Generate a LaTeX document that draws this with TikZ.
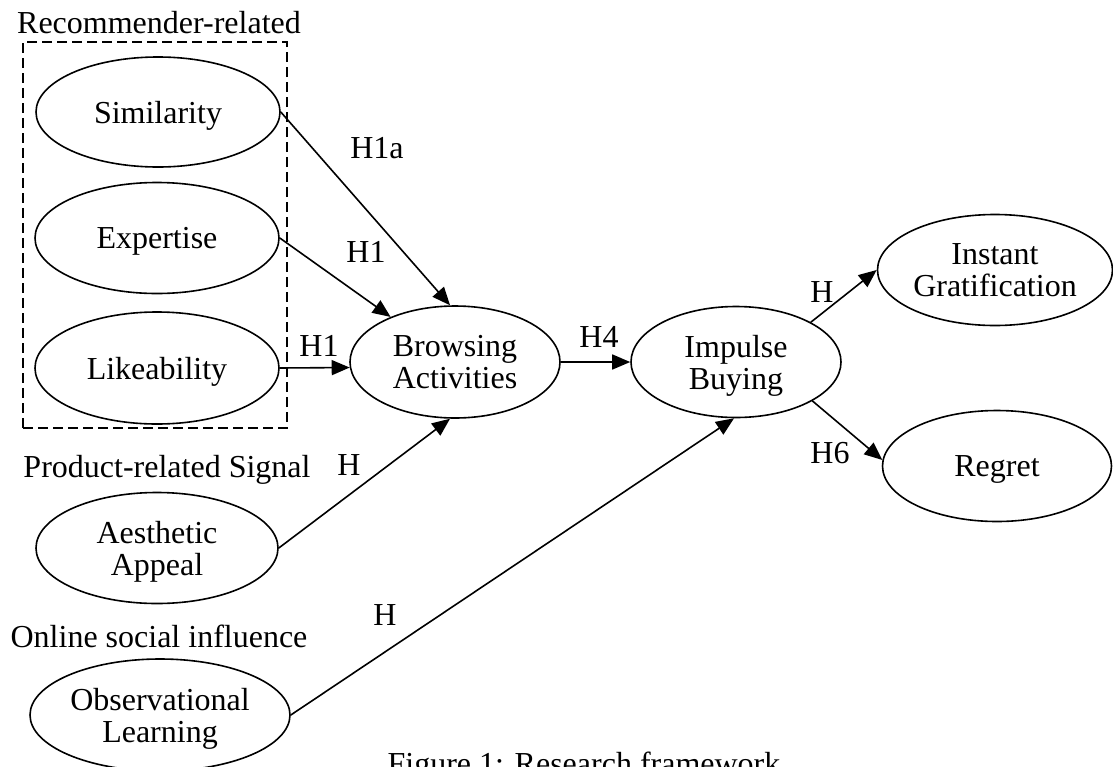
\documentclass[tikz,border=0pt]{standalone}
\usepackage{fontspec}
\setmainfont{Liberation Serif}
\usetikzlibrary{shapes.geometric,arrows.meta}
\begin{document}
\begin{tikzpicture}[x=1pt,y=-1pt,
  every node/.style={font=\fontsize{32}{32}\selectfont},
  construct/.style={draw, ellipse, line width=1.6pt, inner sep=0pt, align=center, text depth=0pt},
  hyp/.style={anchor=base, inner sep=0pt},
  grp/.style={anchor=base, inner sep=0pt},
  link/.style={line width=1.6pt, -{Triangle[length=18pt,width=15pt]}},
  groupbox/.style={draw, dash pattern=on 10pt off 5pt, line width=2pt, inner sep=0pt}]
\useasboundingbox (0,0) rectangle (1113,766);
\clip (0,0) rectangle (1113,766);

% group box
\node[groupbox, minimum width=264pt, minimum height=386pt] (box) at (155,235) {};

% constructs
\node[construct, minimum width=244pt, minimum height=110pt] (sim) at (158,112) {Similarity};
\node[construct, minimum width=244pt, minimum height=111pt] (exp) at (157,238) {Expertise};
\node[construct, minimum width=244pt, minimum height=112pt] (lik) at (157,368) {Likeability};
\node[construct, minimum width=210pt, minimum height=112pt] (brow) at (455,362) {Browsing\\Activities};
\node[construct, minimum width=210pt, minimum height=111pt] (imp) at (736,362) {Impulse\\Buying};
\node[construct, minimum width=235pt, minimum height=111pt] (inst) at (995,270) {Instant\\Gratification};
\node[construct, minimum width=229pt, minimum height=111pt] (reg) at (997,466) {Regret};
\node[construct, minimum width=242pt, minimum height=111pt] (aes) at (157,548) {Aesthetic\\Appeal};
\node[construct, minimum width=260pt, minimum height=112pt] (obs) at (160,715) {Observational\\Learning};

% group labels
\node[grp] (gl1) at (159,33) {Recommender-related};
\node[grp] (gl2) at (167,477) {Product-related Signal};
\node[grp] (gl3) at (159,647) {Online social influence};
\node[grp] (cap) at (584,774) {Figure 1: Research framework};

% connectors
\draw[link] (sim.east) -- (brow.95);
\draw[link] (exp.east) -- (brow.145);
\draw[link] (lik.east) -- (brow.183);
\draw[link] (aes.east) -- (brow.265);
\draw[link] (brow.east) -- (imp.west);
\draw[link] (obs.east) -- (imp.268);
\draw[link] (imp.28) -- (inst.west);
\draw[link] (imp.-27) -- (reg.177);

% hypothesis labels
\node[hyp] (h1a) at (377,158) {H1a};
\node[hyp] (h1b) at (366,262) {H1};
\node[hyp] (h1c) at (319,356) {H1};
\node[hyp] (h4) at (599,347) {H4};
\node[hyp] (h5) at (822,302) {H};
\node[hyp] (h6) at (830,463) {H6};
\node[hyp] (h2) at (349,475) {H};
\node[hyp] (h3) at (385,625) {H};
\end{tikzpicture}
\end{document}
